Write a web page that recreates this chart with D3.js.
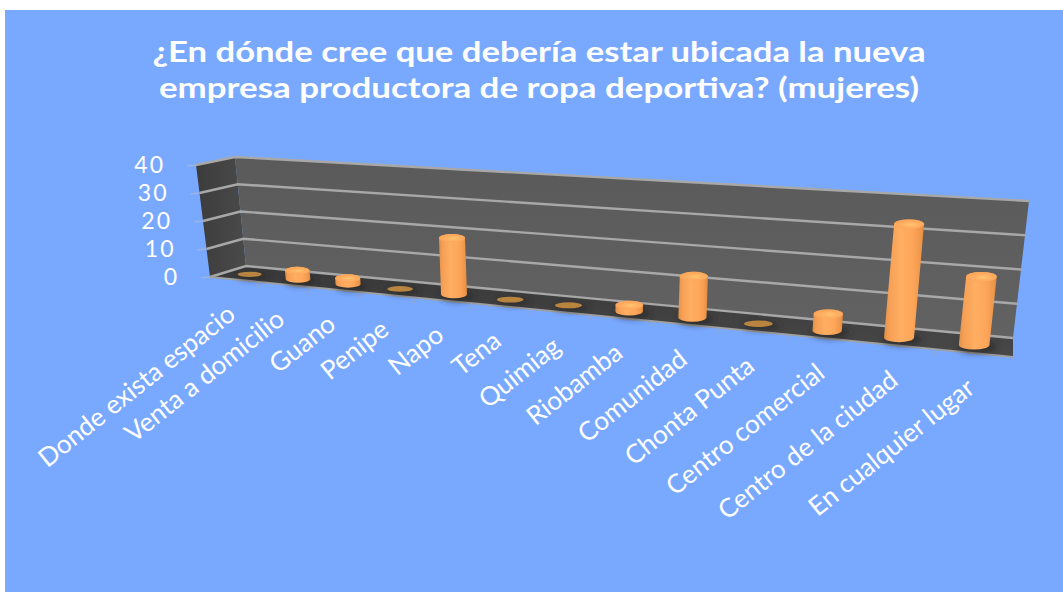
<!DOCTYPE html>
<html lang="es">
<head>
<meta charset="utf-8">
<title>Ubicación de la nueva empresa</title>
<script src="https://cdn.jsdelivr.net/npm/d3@7"></script>
<style>
html,body{margin:0;padding:0;background:#fff;overflow:hidden}
svg{display:block}
text{font-family:Lato,"Open Sans",sans-serif;fill:#fff}
</style>
</head>
<body>
<svg id="chart" width="1063" height="592"></svg>
<script>
const categories = ["Donde exista espacio","Venta a domicilio","Guano","Penipe","Napo","Tena","Quimiag","Riobamba","Comunidad","Chonta Punta","Centro comercial","Centro de la ciudad","En cualquier lugar"];
const mujeres = [0,3,2,0,19,0,0,2,13,0,5,34,20];
const valueTicks = [0,10,20,30,40];
const titleLines = ["¿En dónde cree que debería estar ubicada la nueva","empresa productora de ropa deportiva? (mujeres)"];

const svg = d3.select("#chart");
const lerp = (a,b,t) => a + (b-a)*t;
const lerpP = (p,q,t) => [lerp(p[0],q[0],t), lerp(p[1],q[1],t)];

// Corners of the 3D plot box, in screen space
const floorBackL = [246,266], floorBackR = [1013,338];
const floorFrontL = [210,277], floorFrontR = [1013,357];
const upFrontL = [-14,-112], upBackL = [-11,-109], upR = [16,-137];
const foreshorten = 0.77;
const barDepth = 0.45;

const band = d3.scaleBand().domain(categories).range([0,1]);
const valueScale = d3.scaleLinear().domain([0,40]).range([0,1]);
const warp = u => u*foreshorten/(1+u*(foreshorten-1));
const radiusX = d3.scaleLinear().domain([0,1]).range([12,15.5]);
const radiusY = d3.scaleLinear().domain([0,1]).range([3.6,5]);

// t: along the category axis, d: 0 front to 1 back, v: axis value
function project(t,d,v){
  const base = lerpP(lerpP(floorFrontL,floorFrontR,t), lerpP(floorBackL,floorBackR,t), d);
  const up = lerpP(lerpP(upFrontL,upBackL,d), upR, t);
  const k = valueScale(v);
  return [base[0]+up[0]*k, base[1]+up[1]*k];
}
const poly = pts => "M"+pts.map(p=>p.join(",")).join("L")+"Z";

const defs = svg.append("defs");
const grad = (id,x1,y1,x2,y2,stops) => {
  const g = defs.append("linearGradient").attr("id",id)
    .attr("x1",x1).attr("y1",y1).attr("x2",x2).attr("y2",y2);
  stops.forEach(([o,c]) => g.append("stop").attr("offset",o).attr("stop-color",c));
};
grad("cyl",0,0,1,0,[[0,"#e08f48"],[.12,"#f59f55"],[.42,"#ffae62"],[.72,"#fda659"],[.93,"#ee9549"],[1,"#d5873f"]]);
grad("wall",0,0,0,1,[[0,"#5a5a5a"],[1,"#626262"]]);
grad("side",0,0,1,0,[[0,"#3c3c3c"],[1,"#4a4a4a"]]);
grad("floor",0,0,0,1,[[0,"#383838"],[1,"#484848"]]);
const capGrad = defs.append("radialGradient").attr("id","cap").attr("cx",.55).attr("cy",.55).attr("r",.55);
capGrad.append("stop").attr("offset",0).attr("stop-color","#ffc56e");
capGrad.append("stop").attr("offset",.55).attr("stop-color","#ffae62");
capGrad.append("stop").attr("offset",1).attr("stop-color","#fba558");
defs.append("filter").attr("id","soft").attr("x","-50%").attr("y","-100%").attr("width","200%").attr("height","300%")
  .append("feGaussianBlur").attr("stdDeviation",3);

// Backdrop
svg.append("rect").attr("x",5).attr("y",10).attr("width",1058).attr("height",582).attr("fill","#79a9ff");

// Title
svg.append("g").selectAll("text").data(titleLines).join("text")
  .attr("x",539).attr("y",(d,i)=>62+i*36)
  .attr("text-anchor","middle").attr("font-size",29).attr("font-weight",700)
  .attr("textLength",(d,i)=>i?760:773).attr("lengthAdjust","spacingAndGlyphs")
  .text(d=>d);

// Walls and floor
const plot = svg.append("g");
plot.append("path").attr("fill","url(#side)")
  .attr("d",poly([project(0,0,0),project(0,1,0),project(0,1,40),project(0,0,40)]));
plot.append("path").attr("fill","url(#wall)")
  .attr("d",poly([project(0,1,0),project(1,1,0),project(1,1,40),project(0,1,40)]));
plot.append("path").attr("fill","url(#floor)")
  .attr("d",poly([project(0,0,0),project(1,0,0),project(1,1,0),project(0,1,0)]));

// Gridlines wrap from the side wall onto the back wall
const line = d3.line();
plot.append("g").selectAll("path").data(valueTicks).join("path")
  .attr("fill","none").attr("stroke","#a8a8a8").attr("stroke-width",2.4)
  .attr("d",v=>line([project(0,0,v),project(0,1,v),project(1,1,v)]));

// Axis edges and tick marks
plot.append("path").attr("fill","none").attr("stroke","#a0a0a0").attr("stroke-width",2)
  .attr("d",line([project(0,0,0),project(1,0,0)]));
plot.append("g").selectAll("path").data(valueTicks).join("path")
  .attr("stroke","#9bb4e0").attr("stroke-width",1.5)
  .attr("d",v=>{const p=project(0,0,v);return line([[p[0]-9,p[1]+1],p]);});
const tickT = d3.range(1,categories.length).map(i=>warp(i/categories.length));
plot.append("g").selectAll("path").data(tickT).join("path")
  .attr("stroke","#8fa6d0").attr("stroke-width",1.5)
  .attr("d",t=>{const p=project(t,0,0);return line([p,[p[0],p[1]+6]]);});

// Value labels
svg.append("g").selectAll("text").data(valueTicks).join("text")
  .attr("x",v=>project(0,0,v)[0]-31).attr("y",v=>project(0,0,v)[1]+8)
  .attr("text-anchor","end").attr("font-size",23).attr("letter-spacing",2).text(v=>v);

// Cylinders, drawn in category order
const centres = categories.map((c,i) => {
  const t = warp(band(c)+band.bandwidth()/2);
  const v = mujeres[i];
  return {c, v, t, b:project(t,barDepth,0), p:project(t,barDepth,v), rx:radiusX(t), ry:radiusY(t)*(v>0?1:.72)};
});
const shadows = svg.append("g");
shadows.selectAll("ellipse").data(centres).join("ellipse")
  .attr("cx",d=>d.b[0]+3).attr("cy",d=>d.b[1]+2)
  .attr("rx",d=>d.rx*1.25).attr("ry",d=>d.ry*1.3)
  .attr("fill","#262626").attr("opacity",.7).attr("filter","url(#soft)");

const bars = svg.append("g").selectAll("g").data(centres).join("g");
bars.filter(d=>d.v>0).append("path").attr("fill","url(#cyl)")
  .attr("d",d=>{
    const [bx,by]=d.b,[px,py]=d.p;
    return `M${px-d.rx},${py}L${bx-d.rx},${by}A${d.rx},${d.ry} 0 0 0 ${bx+d.rx},${by}L${px+d.rx},${py}A${d.rx},${d.ry} 0 0 0 ${px-d.rx},${py}Z`;
  });
bars.append("ellipse")
  .attr("cx",d=>d.p[0]).attr("cy",d=>d.p[1]).attr("rx",d=>d.rx).attr("ry",d=>d.ry)
  .attr("fill",d=>d.v>0?"url(#cap)":"#b9843f");

// Slanted category labels
svg.append("g").selectAll("text").data(centres).join("text")
  .attr("transform",d=>{
    const p=project(d.t,0,0);
    return `translate(${p[0]+3},${p[1]+38}) rotate(-38.5)`;
  })
  .attr("text-anchor","end").attr("font-size",26).text(d=>d.c);
</script>
</body>
</html>
